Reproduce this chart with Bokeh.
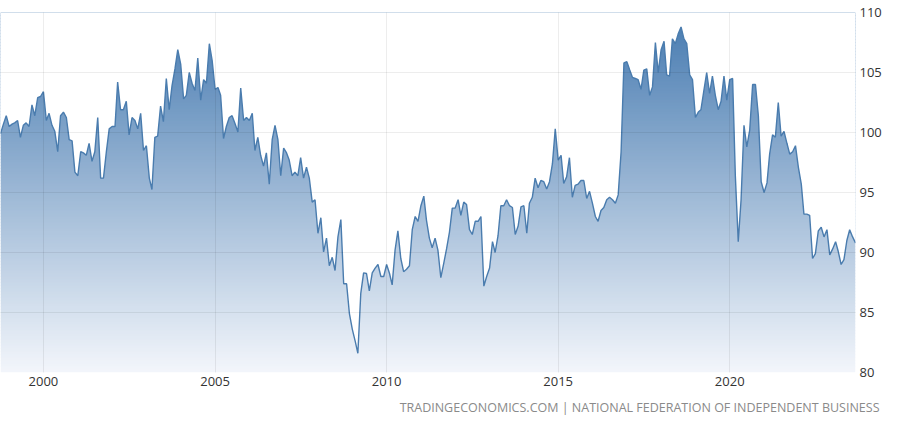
import numpy as np
import pandas as pd
from bokeh.plotting import figure
from bokeh.models import (ColumnDataSource, FixedTicker, DatetimeTickFormatter,
                          Range1d, Title)
from bokeh.embed import file_html
from bokeh.resources import INLINE

# NFIB small business optimism index, monthly, starting Oct 1998
start_month = "1998-10-01"
idx_1998_1999 = [99.9, 100.7, 101.4, 100.5, 100.7, 100.8, 101.0, 99.6, 100.6, 100.8,
                 100.5, 102.3, 101.4, 102.9, 103.0]
idx_2000_2003 = [103.4, 101.0, 101.6, 100.6, 100.1, 98.4, 101.4, 101.7, 101.25, 99.4, 99.3, 96.7,
                 96.4, 98.4, 98.3, 98.1, 99.1, 97.6, 98.4, 101.25, 96.2, 96.2, 98.4, 100.3,
                 100.5, 100.5, 104.2, 101.9, 101.9, 102.6, 99.8, 101.25, 101.0, 100.3, 101.6, 98.5,
                 98.9, 96.2, 95.25, 99.6, 99.7, 102.2, 100.9, 104.5, 101.9, 103.9, 105.3, 106.9]
idx_2004_2007 = [105.7, 102.8, 103.1, 105.0, 104.1, 103.5, 106.2, 102.7, 104.4, 104.1, 107.4, 106.0,
                 103.6, 103.75, 103.1, 99.5, 100.5, 101.25, 101.4, 100.75, 100.05, 103.7, 101.0, 101.25,
                 101.0, 101.6, 98.5, 99.6, 98.1, 97.2, 98.3, 95.7, 99.4, 100.6, 99.4, 96.4,
                 98.7, 98.3, 97.7, 96.4, 96.7, 96.4, 97.9, 96.2, 97.1, 96.2, 94.2, 94.4]
idx_2008_2011 = [91.6, 92.9, 90.05, 91.2, 88.9, 89.6, 88.5, 91.3, 92.75, 87.4, 87.4, 84.9,
                 83.6, 82.6, 81.6, 86.6, 88.3, 88.25, 86.8, 88.3, 88.7, 89.0, 88.0, 88.0,
                 89.0, 88.25, 87.3, 90.2, 91.8, 89.5, 88.4, 88.6, 88.9, 91.9, 93.0, 92.6,
                 93.9, 94.7, 92.7, 91.2, 90.4, 91.2, 90.2, 87.9, 89.1, 90.3, 91.7, 93.7]
idx_2012_2015 = [93.7, 94.4, 93.1, 94.2, 94.0, 91.9, 91.5, 92.6, 92.6, 93.0, 87.2, 88.0,
                 88.7, 90.9, 90.0, 91.4, 93.9, 93.9, 94.4, 93.9, 93.75, 91.5, 92.2, 93.8,
                 93.9, 91.6, 94.1, 94.6, 96.2, 95.4, 96.0, 95.9, 95.3, 95.9, 97.4, 100.3,
                 97.7, 98.1, 95.75, 96.3, 97.9, 94.6, 95.6, 95.7, 96.0, 96.0, 94.5, 95.1]
idx_2016_2019 = [94.1, 93.0, 92.6, 93.5, 93.75, 94.4, 94.6, 94.4, 94.1, 94.8, 98.4, 105.8,
                 105.9, 105.2, 104.6, 104.5, 104.4, 103.6, 105.2, 105.3, 103.1, 103.8, 107.5, 105.0,
                 106.9, 107.6, 104.8, 104.7, 107.8, 107.4, 108.2, 108.8, 107.8, 107.4, 104.8, 104.4,
                 101.25, 101.7, 101.9, 103.5, 105.0, 103.25, 104.7, 103.1, 101.9, 102.6, 104.7, 102.7]
idx_2020_2023 = [104.4, 104.5, 96.4, 90.9, 94.4, 100.6, 98.8, 100.2, 104.0, 104.0, 101.4, 95.9,
                 95.0, 95.8, 98.2, 99.8, 99.6, 102.5, 99.7, 100.1, 99.1, 98.2, 98.4, 98.9,
                 97.1, 95.7, 93.2, 93.2, 93.1, 89.5, 89.9, 91.8, 92.1, 91.3, 91.9, 89.8,
                 90.3, 90.9, 90.1, 89.0, 89.4, 91.0, 91.9, 91.3, 90.8]

year_ticks = [2000, 2005, 2010, 2015, 2020]
value_ticks = [80, 85, 90, 95, 100, 105, 110]
source_text = "TRADINGECONOMICS.COM | NATIONAL FEDERATION OF INDEPENDENT BUSINESS"

values = (idx_1998_1999 + idx_2000_2003 + idx_2004_2007 + idx_2008_2011
          + idx_2012_2015 + idx_2016_2019 + idx_2020_2023)
dates = pd.date_range(start_month, periods=len(values), freq="MS")
source = ColumnDataSource(data=dict(date=dates, value=values))


def to_ms(ts):
    return pd.Timestamp(ts).value / 1e6


x_start, x_end = to_ms(dates[0]), to_ms(dates[-1])
y_lo, y_hi = value_ticks[0], value_ticks[-1]

p = figure(width=884, height=415, x_axis_type="datetime", y_axis_location="right",
           x_range=Range1d(x_start, x_end), y_range=Range1d(y_lo, y_hi),
           output_backend="svg", toolbar_location=None,
           min_border_left=0, min_border_right=0, min_border_top=12, min_border_bottom=43)
p.outline_line_color = None
p.background_fill_color = "white"
p.border_fill_color = "white"

# vertical gradient under the curve: strips, then mask everything above the line
top_rgb = np.array([70, 122, 176])
bot_rgb = np.array([243, 246, 251])
n_strips = 120
edges = np.linspace(y_lo, y_hi, n_strips + 1)
t = ((edges[:-1] + edges[1:]) / 2 - y_lo) / (y_hi - y_lo)
strip_colors = ["#%02x%02x%02x" % tuple(int(round(c)) for c in bot_rgb + (top_rgb - bot_rgb) * tt)
                for tt in t]
p.quad(left=[x_start] * n_strips, right=[x_end] * n_strips,
       bottom=edges[:-1], top=edges[1:] + 0.05,
       fill_color=strip_colors, line_color=None)
p.varea(x="date", y1="value", y2=y_hi + 1, source=source, fill_color="white")
p.line(x="date", y="value", source=source, line_color="#4a7cae", line_width=1.4)

# axes
p.xaxis.ticker = FixedTicker(ticks=[to_ms("%d-01-01" % y) for y in year_ticks])
p.xaxis.formatter = DatetimeTickFormatter(years="%Y", months="%Y", days="%Y")
p.yaxis.ticker = FixedTicker(ticks=value_ticks)
for ax in (p.xaxis, p.yaxis):
    ax.axis_line_color = None
    ax.major_tick_line_color = None
    ax.minor_tick_line_color = None
    ax.major_tick_in = 0
    ax.major_tick_out = 0
    ax.minor_tick_in = 0
    ax.minor_tick_out = 0
    ax.major_label_text_font = "Open Sans"
    ax.major_label_text_font_size = "13px"
    ax.major_label_text_color = "#333333"
p.xaxis.major_label_standoff = 4
p.yaxis.major_label_standoff = 4

for g in (p.xgrid, p.ygrid):
    g.grid_line_color = "black"
    g.grid_line_alpha = 0.07
    g.level = "annotation"

# empty spacer pushes the source line further down
p.add_layout(Title(text=" ", text_font_size="5px", standoff=0), "below")
footer = Title(text=source_text, align="right", offset=-24, standoff=0,
               text_font="Open Sans", text_font_size="12.5px",
               text_font_style="normal", text_color="#8a8a8a")
p.add_layout(footer, "below")

open("out.html", "w").write(file_html(p, INLINE))
